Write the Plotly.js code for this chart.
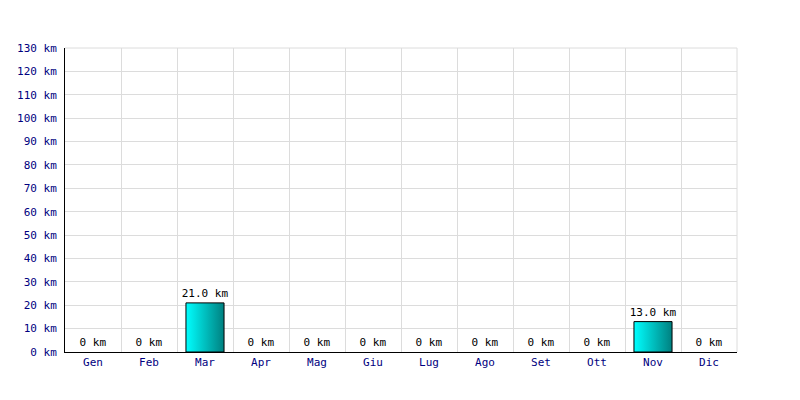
<!DOCTYPE html>
<html><head><meta charset="utf-8">
<script src="https://cdn.plot.ly/plotly-3.0.1.min.js"></script>
<style>html,body{margin:0;padding:0;background:#fff}</style>
</head><body>
<div id="chart" style="width:800px;height:400px"></div>
<script>
const months = ["Gen","Feb","Mar","Apr","Mag","Giu","Lug","Ago","Set","Ott","Nov","Dic"];
const distanceKm = [0,0,21,0,0,0,0,0,0,0,13,0];
const labels = distanceKm.map(v => v === 0 ? "0 km" : v.toFixed(1) + " km");

const font = {family: "DejaVu Sans Mono, monospace", size: 11, color: "#000080"};
const trace = {
  type: "bar", x: months, y: distanceKm, width: 0.68,
  text: labels, textposition: "outside", cliponaxis: false, constraintext: "none",
  textfont: {family: "DejaVu Sans Mono, monospace", size: 11, color: "#000"},
  marker: {color: "#00b8b8", line: {color: "#000", width: distanceKm.map(v => v === 0 ? 0 : 1)}},
  hoverinfo: "none"
};
const layout = {
  width: 800, height: 400,
  margin: {l: 65, r: 63, t: 48, b: 48},
  paper_bgcolor: "#fff", plot_bgcolor: "#fff",
  showlegend: false, font: font,
  xaxis: {type: "category", showgrid: true, gridcolor: "#dcdcdc", tickson: "boundaries",
    ticks: "", showline: true, linecolor: "#000", linewidth: 1, mirror: false,
    tickfont: font, zeroline: false, fixedrange: true},
  yaxis: {range: [0, 130], dtick: 10, ticksuffix: " km", showgrid: true, gridcolor: "#dcdcdc",
    showline: true, linecolor: "#000", linewidth: 1, ticks: "", tickfont: font,
    ticklabelstandoff: 5, zeroline: false, fixedrange: true},
  shapes: [
    {type: "line", xref: "paper", yref: "paper", x0: 1, x1: 1, y0: 0, y1: 1, line: {color: "#dcdcdc", width: 1}},
    {type: "line", xref: "paper", yref: "paper", x0: 0, x1: 1, y0: 1, y1: 1, line: {color: "#dcdcdc", width: 1}}
  ]
};
function addGradient(gd) {
  const svg = gd.querySelector("svg.main-svg");
  if (!svg) return;
  const ns = "http://www.w3.org/2000/svg";
  let defs = svg.querySelector("defs");
  if (!defs) { defs = document.createElementNS(ns, "defs"); svg.insertBefore(defs, svg.firstChild); }
  if (!svg.querySelector("#barGrad")) {
    const g = document.createElementNS(ns, "linearGradient");
    g.setAttribute("id", "barGrad");
    g.setAttribute("x1", "0"); g.setAttribute("y1", "0"); g.setAttribute("x2", "1"); g.setAttribute("y2", "0");
    [["0", "#00ffff"], ["1", "#008080"]].forEach(([o, c]) => {
      const s = document.createElementNS(ns, "stop");
      s.setAttribute("offset", o); s.setAttribute("stop-color", c);
      g.appendChild(s);
    });
    defs.appendChild(g);
  }
  gd.querySelectorAll(".barlayer .point path").forEach(p => { p.style.fill = "url(#barGrad)"; });
}
Plotly.newPlot("chart", [trace], layout, {displayModeBar: false, staticPlot: true}).then(gd => {
  addGradient(gd);
  gd.on("plotly_afterplot", () => addGradient(gd));
});
</script>
</body></html>
